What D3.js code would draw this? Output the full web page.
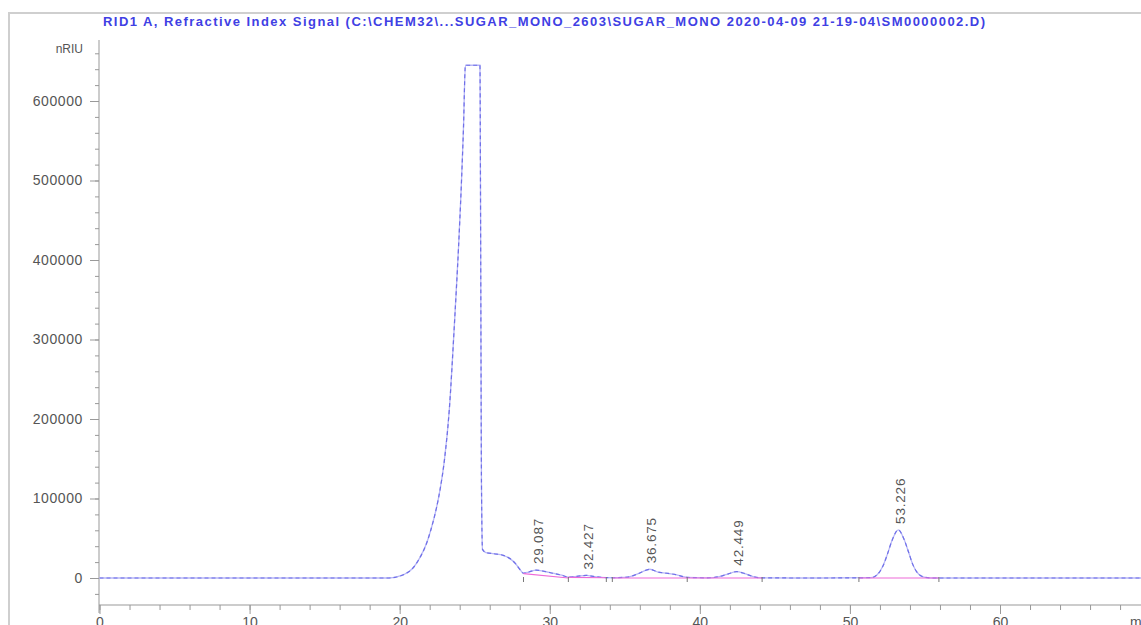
<!DOCTYPE html>
<html>
<head>
    <meta charset="utf-8" />
    <title>RID1 A chromatogram</title>
    <style>
        body { margin: 0; overflow: hidden; background: #fff; }
        svg { display: block; font-family: "Liberation Sans", Arial, sans-serif; }
    </style>
</head>
<body>
    <div id="chart"></div>
    <script src="https://d3js.org/d3.v7.min.js"></script>
    <script>
        // signal trace (time in min, signal in nRIU)
        var times = [0, 5, 10, 15, 19.3, 19.8, 20.3, 20.86, 21.3, 21.8, 22.1, 22.45, 22.7, 22.98,
            23.3, 23.65, 23.92, 24.1, 24.25, 24.38, 25.35, 25.40, 25.45, 25.52, 25.75, 26.3, 26.9,
            27.3, 27.7, 28.0, 28.25, 28.6, 29.087, 29.6, 30.2, 30.8, 31.24, 31.8, 32.427, 33.0,
            33.77, 34.17, 35.2, 35.9, 36.675, 37.2, 37.8, 38.4, 39.16, 40.5, 41.3, 41.9, 42.449,
            43.0, 43.6, 44.15, 48, 51.4, 51.8, 52.2, 52.5, 52.8, 53.226, 53.6, 53.9, 54.2, 54.6,
            55.0, 55.5, 70];
        var signal = [0, 0, 0, 0, 0, 1300, 4500, 12000, 24000, 44000, 62000, 88000, 112000, 148000,
            210000, 320000, 415000, 490000, 565000, 645000, 645000, 400000, 120000, 36000, 32000, 30500, 28500,
            25000, 18500, 11000, 6000, 7500, 10000, 8500, 6000, 3500, 1200, 2000, 3300, 1800,
            500, 300, 1200, 5500, 11000, 7500, 6000, 4200, 800, 200, 1800, 5200, 8000,
            5500, 1500, 100, 0, 400, 3800, 15000, 30000, 47000, 60500, 49000, 33000, 16500, 4500,
            900, 0, 0];

        // labelled peaks (retention times)
        var peakTimes = [29.087, 32.427, 36.675, 42.449, 53.226];

        // integration baselines: start time/value, end time/value
        var baseStart = [28.25, 31.24, 34.17, 39.16, 50.6];
        var baseStartVal = [5500, 800, 0, 0, 0];
        var baseEnd = [31.24, 33.77, 39.16, 44.15, 55.93];
        var baseEndVal = [0, 300, 0, 0, 0];

        // integration event marks
        var eventTimes = [28.25, 31.24, 33.77, 34.17, 39.16, 44.15, 50.6, 55.93];

        var yMajor = [0, 100000, 200000, 300000, 400000, 500000, 600000];
        var yMinor = d3.range(-20000, 680000, 20000);
        var xMajor = [0, 10, 20, 30, 40, 50, 60];
        var xMinor = d3.range(0, 70, 2);

        var W = 1141, H = 625;
        var svg = d3.select("#chart").append("svg")
            .attr("width", W).attr("height", H);

        var x = d3.scaleLinear().domain([0, 60]).range([99.5, 1000]);
        var y = d3.scaleLinear().domain([0, 600000]).range([578, 101]);

        // outer frame
        svg.append("line").attr("x1", 8).attr("x2", W).attr("y1", 13).attr("y2", 13)
            .attr("stroke", "#cfcfcf").attr("stroke-width", 2);
        svg.append("line").attr("x1", 9).attr("x2", 9).attr("y1", 13).attr("y2", H)
            .attr("stroke", "#cfcfcf").attr("stroke-width", 2);

        // title
        svg.append("text")
            .attr("x", 103).attr("y", 26)
            .attr("textLength", 882).attr("lengthAdjust", "spacing")
            .style("font-size", "13px").style("font-weight", "bold")
            .attr("fill", "#4040e4")
            .text("RID1 A, Refractive Index Signal (C:\\CHEM32\\...SUGAR_MONO_2603\\SUGAR_MONO 2020-04-09 21-19-04\\SM0000002.D)");

        // y axis
        var yAxisG = svg.append("g").attr("transform", "translate(99,0)");
        yAxisG.append("g")
            .call(d3.axisLeft(y).tickValues(yMinor).tickSize(4).tickFormat(""))
            .call(g => g.select(".domain").remove())
            .selectAll("line").attr("stroke", "#999");
        yAxisG.append("g")
            .call(d3.axisLeft(y).tickValues(yMajor).tickSize(9).tickPadding(7).tickFormat(d3.format("d")))
            .call(g => g.select(".domain").remove())
            .call(g => g.selectAll("line").attr("stroke", "#999"))
            .call(g => g.selectAll("text")
                .attr("fill", "#555")
                .style("font-size", "14px")
                .style("letter-spacing", "0.6px"));
        yAxisG.append("line").attr("x1", 0).attr("x2", 0).attr("y1", 40).attr("y2", 613)
            .attr("stroke", "#999");
        svg.append("text").attr("x", 83).attr("y", 53)
            .attr("text-anchor", "end")
            .style("font-size", "12px")
            .attr("fill", "#555")
            .text("nRIU");

        // x axis
        var xAxisG = svg.append("g").attr("transform", "translate(0,605)");
        xAxisG.append("g")
            .call(d3.axisBottom(x).tickValues(xMinor).tickSize(5).tickFormat(""))
            .call(g => g.select(".domain").remove())
            .selectAll("line").attr("stroke", "#999");
        xAxisG.append("g")
            .call(d3.axisBottom(x).tickValues(xMajor).tickSize(9).tickPadding(3))
            .call(g => g.select(".domain").remove())
            .call(g => g.selectAll("line").attr("stroke", "#999"))
            .call(g => g.selectAll("text")
                .attr("fill", "#555")
                .style("font-size", "14px"));
        xAxisG.append("line").attr("x1", 99).attr("x2", W).attr("y1", 0).attr("y2", 0)
            .attr("stroke", "#999");
        svg.append("text").attr("x", 1130).attr("y", 627)
            .style("font-size", "14px").attr("fill", "#555")
            .text("min");

        // signal
        var pts = times.map((t, i) => [t, signal[i]]);
        var line = d3.line()
            .x(d => x(d[0]))
            .y(d => y(d[1]))
            .curve(d3.curveMonotoneX);

        svg.append("path").datum(pts)
            .attr("d", line)
            .attr("fill", "none")
            .attr("stroke", "#b8b8f6")
            .attr("stroke-width", 1.3);
        svg.append("path").datum(pts)
            .attr("d", line)
            .attr("fill", "none")
            .attr("stroke", "#6f6fe8")
            .attr("stroke-width", 1.2)
            .attr("stroke-dasharray", "4 3");

        // integration baselines
        svg.selectAll("line.base")
            .data(baseStart)
            .join("line")
            .attr("class", "base")
            .attr("x1", d => x(d))
            .attr("y1", (d, i) => y(baseStartVal[i]))
            .attr("x2", (d, i) => x(baseEnd[i]))
            .attr("y2", (d, i) => y(baseEndVal[i]))
            .attr("stroke", "#ee6ad8")
            .attr("stroke-width", 1.2);

        // event marks
        svg.selectAll("line.evt")
            .data(eventTimes)
            .join("line")
            .attr("class", "evt")
            .attr("x1", d => x(d)).attr("x2", d => x(d))
            .attr("y1", y(0) - 1).attr("y2", y(0) + 4)
            .attr("stroke", "#777")
            .attr("stroke-width", 1);

        // peak labels
        svg.selectAll("text.peak")
            .data(peakTimes)
            .join("text")
            .attr("class", "peak")
            .attr("transform", d => {
                var v = signal[times.indexOf(d)];
                return `translate(${x(d) + 6.5},${y(v) - 6}) rotate(-90)`;
            })
            .style("font-size", "13.5px")
            .style("letter-spacing", "0.8px")
            .attr("fill", "#555")
            .text(d => d3.format(".3f")(d));
    </script>
</body>
</html>
